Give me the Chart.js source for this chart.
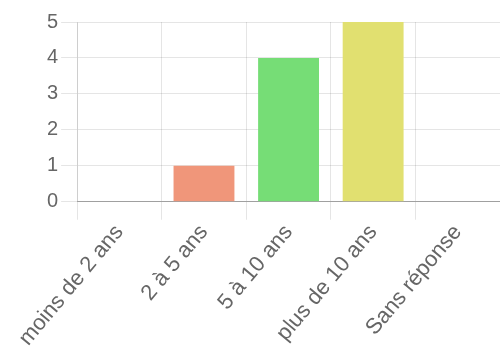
<!DOCTYPE html>
<html>
<head>
<meta charset="utf-8">
<script src="https://cdn.jsdelivr.net/npm/chart.js@4"></script>
<style>
  html, body { margin: 0; padding: 0; background: #fff; }
  #wrap { width: 500px; height: 351px; }
</style>
</head>
<body>
<div id="wrap"><canvas id="anciennete"></canvas></div>
<script>
// categories and counts
const categories = ["moins de 2 ans", "2 à 5 ans", "5 à 10 ans", "plus de 10 ans", "Sans réponse"];
const counts = [0, 1, 4, 5, 0];
const barColors = ["rgb(120,170,230)", "rgb(240,150,122)", "rgb(118,221,118)", "rgb(225,224,112)", "rgb(190,140,220)"];
const yTicks = [0, 1, 2, 3, 4, 5];

Chart.defaults.font.family = "'Liberation Sans', Arial, sans-serif";
Chart.defaults.color = "#666";

new Chart("anciennete", {
    type: "bar",
    data: {
        labels: categories,
        datasets: [
            {
                data: counts,
                backgroundColor: barColors,
                borderWidth: 0,
            },
        ]
    },
    options: {
        responsive: true,
        maintainAspectRatio: false,
        animation: false,
        layout: { padding: { top: 22, right: 0, bottom: 0, left: 44 } },
        plugins: {
            legend: { display: false },
            tooltip: { enabled: false }
        },
        scales: {
            x: {
                grid: { color: "rgba(0,0,0,0.1)", tickLength: 18 },
                border: { color: "rgba(0,0,0,0.3)" },
                ticks: { font: { size: 22 }, minRotation: 50, maxRotation: 50, padding: 0 }
            },
            y: {
                min: yTicks[0],
                max: yTicks[yTicks.length - 1],
                grid: { color: "rgba(0,0,0,0.1)", tickLength: 16 },
                border: { color: "rgba(0,0,0,0.1)" },
                ticks: { stepSize: 1, font: { size: 20 }, padding: 3 }
            }
        }
    }
});
</script>
</body>
</html>
